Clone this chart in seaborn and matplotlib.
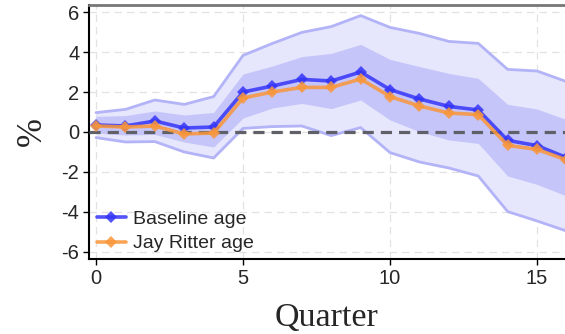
import numpy as np
import pandas as pd
import matplotlib
matplotlib.use("Agg")
import matplotlib.pyplot as plt
import seaborn as sns

# Impulse responses (%) by quarter after the shock
quarters = list(range(17))
baseline_age = [0.35, 0.30, 0.55, 0.20, 0.25, 2.00, 2.30, 2.63, 2.55, 3.00,
                2.12, 1.65, 1.28, 1.10, -0.42, -0.68, -1.28]
ritter_age = [0.30, 0.25, 0.30, -0.10, -0.05, 1.70, 2.00, 2.23, 2.23, 2.65,
              1.77, 1.30, 0.95, 0.87, -0.67, -0.87, -1.40]

# Confidence bands around the baseline estimate
outer_hi = [0.97, 1.13, 1.60, 1.38, 1.77, 3.83, 4.43, 4.98, 5.27, 5.82,
            5.23, 4.93, 4.53, 4.43, 3.13, 3.05, 2.52]
outer_lo = [-0.28, -0.50, -0.48, -1.00, -1.30, 0.18, 0.27, 0.30, -0.18, 0.22,
            -1.03, -1.50, -1.80, -2.20, -3.98, -4.45, -4.95]
inner_hi = [0.78, 0.82, 1.05, 0.85, 0.98, 2.90, 3.30, 3.77, 3.93, 4.38,
            3.63, 3.27, 2.93, 2.68, 1.38, 1.15, 0.62]
inner_lo = [-0.05, -0.15, -0.12, -0.50, -0.75, 0.70, 1.20, 1.43, 1.17, 1.60,
            0.60, 0.02, -0.40, -0.57, -2.20, -2.62, -3.20]

x_ticks = [0, 5, 10, 15]
y_ticks = [-6, -4, -2, 0, 2, 4, 6]

sns.set_style("white")
plt.rcParams["font.family"] = ["Liberation Sans", "DejaVu Sans"]

df = pd.DataFrame({
    "Quarter": quarters * 2,
    "value": baseline_age + ritter_age,
    "series": ["Baseline age"] * len(quarters) + ["Jay Ritter age"] * len(quarters),
})

fig = plt.figure(figsize=(5.65, 3.34), dpi=100)
ax = fig.add_axes([0.1575, 0.2246, 0.8425, 0.7604])

# grid
for xt in x_ticks:
    ax.axvline(xt, color="#e2e2e2", lw=0.9, ls=(0, (6, 4)), zorder=0)
for yt in y_ticks:
    ax.axhline(yt, color="#e2e2e2", lw=0.9, ls=(0, (6, 4)), zorder=0)

ax.fill_between(quarters, outer_lo, outer_hi, color="#e6e6fd", lw=0, zorder=1)
ax.fill_between(quarters, inner_lo, inner_hi, color="#c5c5f9", lw=0, zorder=2)
ax.plot(quarters, outer_hi, color="#b3b3f7", lw=2.0, zorder=3)
ax.plot(quarters, outer_lo, color="#b3b3f7", lw=2.0, zorder=3)

ax.axhline(0, color="#606068", lw=2.3, ls=(0, (3.5, 2.2)), zorder=4)

palette = {"Baseline age": "#3535f8", "Jay Ritter age": "#f9963a"}
sns.lineplot(data=df, x="Quarter", y="value", hue="series", palette=palette,
             marker="D", markersize=6.5, markeredgewidth=0, lw=2.6, alpha=0.85,
             ax=ax, zorder=5)

ax.set_xlim(-0.24, 15.95)
ax.set_ylim(-6.35, 6.35)
ax.set_xticks(x_ticks)
ax.set_yticks(y_ticks)
ax.set_yticklabels([str(v) for v in y_ticks])
ax.tick_params(axis="both", labelsize=14.5, length=4, width=1, direction="out",
               color="black", pad=3)
ax.tick_params(axis="x", bottom=True)
ax.tick_params(axis="y", left=True)

ax.set_xlabel("Quarter", family="Liberation Serif", fontsize=24.5, labelpad=11)
ax.set_ylabel("%", family="Liberation Serif", fontsize=25, labelpad=9)

for side in ["left", "bottom"]:
    ax.spines[side].set_color("black")
    ax.spines[side].set_linewidth(1.5)
ax.spines["top"].set_color("#777777")
ax.spines["top"].set_linewidth(2)
ax.spines["right"].set_visible(False)

leg = ax.legend(loc="lower left", frameon=False, fontsize=14, handlelength=1.5,
                handletextpad=0.35, labelspacing=0.35, borderaxespad=0.0,
                bbox_to_anchor=(0.0, -0.005))
for h in leg.get_lines():
    h.set_linewidth(2.6)

fig.savefig("out.png", dpi=100)
